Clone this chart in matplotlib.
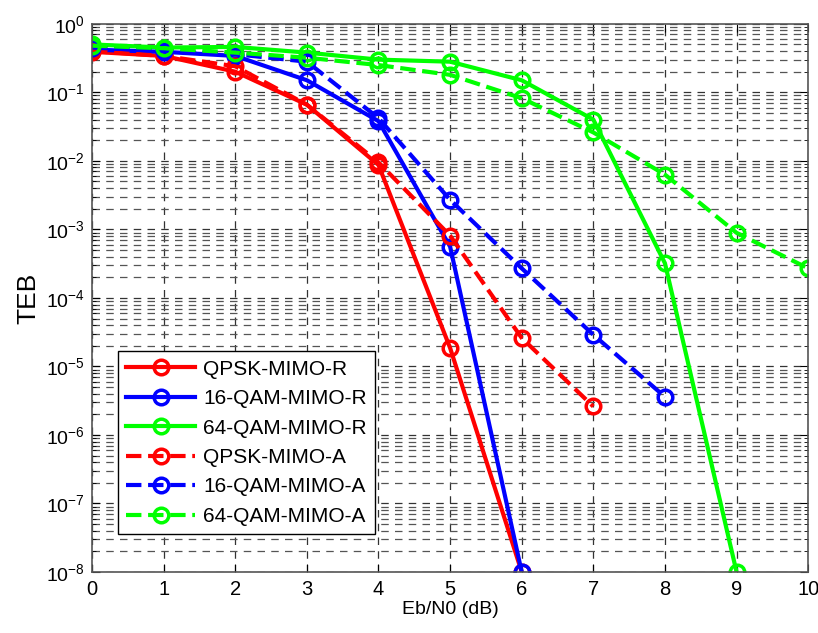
import numpy as np
import matplotlib
matplotlib.use("Agg")
import matplotlib.pyplot as plt
from matplotlib.ticker import FixedLocator, NullFormatter, LogFormatterMathtext

plt.rcParams['font.family'] = ['Liberation Sans', 'DejaVu Sans']
plt.rcParams['mathtext.fontset'] = 'custom'
plt.rcParams['mathtext.rm'] = 'Liberation Sans'
plt.rcParams['mathtext.it'] = 'Liberation Sans'

# Eb/N0 points (dB)
ebn0_qpsk_r = [0, 1, 2, 3, 4, 5, 6]
ebn0_16_r = [0, 1, 2, 3, 4, 5, 6]
ebn0_64_r = [0, 1, 2, 3, 4, 5, 6, 7, 8, 9]
ebn0_qpsk_a = [0, 1, 2, 3, 4, 5, 6, 7]
ebn0_16_a = [0, 1, 2, 3, 4, 5, 6, 7, 8]
ebn0_64_a = [0, 1, 2, 3, 4, 5, 6, 7, 8, 9, 10]

# TEB values
teb_qpsk_r = [0.39, 0.34, 0.20, 0.066, 0.0087, 1.86e-5, 1e-8]
teb_16_r = [0.42, 0.39, 0.34, 0.15, 0.038, 5.6e-4, 1e-8]
teb_64_r = [0.50, 0.45, 0.46, 0.38, 0.30, 0.28, 0.15, 0.040, 3.2e-4, 1e-8]
teb_qpsk_a = [0.40, 0.34, 0.24, 0.066, 0.0095, 8.1e-4, 2.6e-5, 2.6e-6]
teb_16_a = [0.45, 0.40, 0.36, 0.28, 0.042, 2.7e-3, 2.7e-4, 2.9e-5, 3.6e-6]
teb_64_a = [0.48, 0.44, 0.38, 0.32, 0.25, 0.18, 0.082, 0.026, 6.3e-3, 8.9e-4, 2.7e-4]

x_ticks = list(range(0, 11))
y_decades = list(range(-8, 1))

red = '#ff0000'
blue = '#0000ff'
green = '#00ff00'

fig = plt.figure(figsize=(8.18, 6.33), dpi=100)
ax = fig.add_axes([0.1125, 0.0964, 0.8755, 0.866])

style = dict(marker='o', markersize=10.5, markerfacecolor='none', markeredgewidth=2.5, linewidth=3)
ax.semilogy(ebn0_qpsk_r, teb_qpsk_r, '-', color=red, label='QPSK-MIMO-R', **style)
ax.semilogy(ebn0_16_r, teb_16_r, '-', color=blue, label='16-QAM-MIMO-R', **style)
ax.semilogy(ebn0_64_r, teb_64_r, '-', color=green, label='64-QAM-MIMO-R', **style)
ax.semilogy(ebn0_qpsk_a, teb_qpsk_a, '--', color=red, label='QPSK-MIMO-A', **style)
ax.semilogy(ebn0_16_a, teb_16_a, '--', color=blue, label='16-QAM-MIMO-A', **style)
ax.semilogy(ebn0_64_a, teb_64_a, '--', color=green, label='64-QAM-MIMO-A', **style)

ax.set_xlim(0, 10)
ax.set_ylim(1e-8, 1)
ax.xaxis.set_major_locator(FixedLocator(x_ticks))
major_y = [10.0 ** d for d in y_decades]
minor_y = [m * 10.0 ** d for d in y_decades[:-1] for m in range(2, 10)]
ax.yaxis.set_major_locator(FixedLocator(major_y))
ax.yaxis.set_major_formatter(LogFormatterMathtext())
ax.yaxis.set_minor_locator(FixedLocator(minor_y))
ax.yaxis.set_minor_formatter(NullFormatter())

ax.tick_params(axis='both', which='both', direction='in', top=True, right=True)
ax.tick_params(axis='both', which='major', length=6)
ax.tick_params(axis='y', which='minor', length=3)
ax.tick_params(axis='x', labelsize=14.5, pad=6)
ax.tick_params(axis='y', labelsize=14, pad=5)

ax.grid(True, which='major', axis='both', color='#333333', linestyle=(0, (6, 5)), linewidth=0.9)
ax.grid(True, which='minor', axis='y', color='#555555', linestyle=(0, (6, 5)), linewidth=0.9)
ax.set_axisbelow(True)

for sp in ax.spines.values():
    sp.set_color('#555555')
    sp.set_linewidth(1.2)

ax.set_xlabel('Eb/N0 (dB)', fontsize=14, labelpad=1)
ax.set_ylabel('TEB', fontsize=19, labelpad=4)

leg = ax.legend(loc='lower left', bbox_to_anchor=(0.036, 0.069), fontsize=15,
                fancybox=False, framealpha=1, edgecolor='black', handlelength=3.3,
                borderpad=0.4, labelspacing=0.5, handletextpad=0.4, borderaxespad=0)
leg.get_frame().set_linewidth(1.0)

fig.savefig('out.png', dpi=100)
